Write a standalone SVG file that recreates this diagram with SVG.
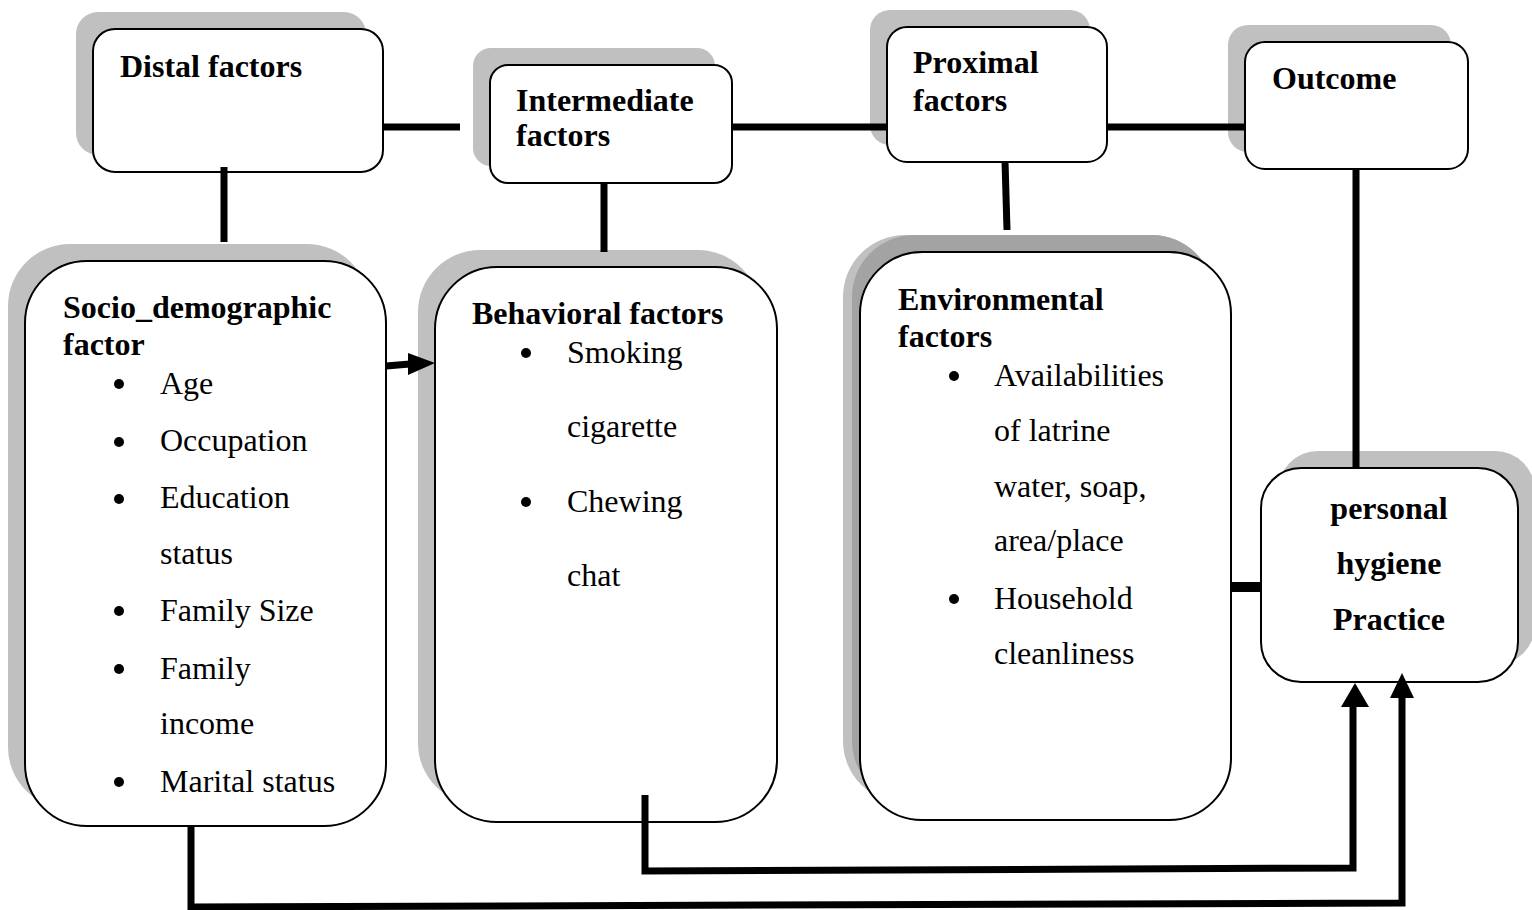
<svg xmlns="http://www.w3.org/2000/svg" width="1532" height="910" viewBox="0 0 1532 910">
<defs>
<style>
.box{fill:#fff;stroke:#000;stroke-width:2}
.sh{fill:#c0c0c0}
.sh2{fill:#a3a3a3}
.h{font-family:"Liberation Serif","Times New Roman",serif;font-weight:bold;font-size:32px;fill:#000}
.t{font-family:"Liberation Serif","Times New Roman",serif;font-size:32px;fill:#000}
.c{stroke:#000;stroke-width:7;fill:none}
.b{fill:#000}
</style>
</defs>
<rect width="1532" height="910" fill="#fff"/>

<g id="distal">
<rect class="sh" x="76" y="12" width="290" height="143" rx="22"/>
<rect class="box" x="93" y="29" width="290" height="143" rx="22"/>
<text class="h" x="120" y="77">Distal factors</text>
</g>

<g id="intermediate">
<rect class="sh" x="473" y="48" width="242" height="118" rx="18"/>
<rect class="box" x="490" y="65" width="242" height="118" rx="18"/>
<text class="h" x="516" y="111">Intermediate</text>
<text class="h" x="516" y="146">factors</text>
</g>

<g id="proximal">
<rect class="sh" x="870" y="10" width="220" height="135" rx="20"/>
<rect class="box" x="887" y="27" width="220" height="135" rx="20"/>
<text class="h" x="913" y="73">Proximal</text>
<text class="h" x="913" y="111">factors</text>
</g>

<g id="outcome">
<rect class="sh" x="1228" y="25" width="223" height="127" rx="20"/>
<rect class="box" x="1245" y="42" width="223" height="127" rx="20"/>
<text class="h" x="1272" y="89">Outcome</text>
</g>

<g id="socio">
<rect class="sh" x="8" y="244" width="361" height="565" rx="62"/>
<rect class="box" x="25" y="261" width="361" height="565" rx="62"/>
<text class="h" x="63" y="318">Socio_demographic</text>
<text class="h" x="63" y="355">factor</text>
<circle class="b" cx="119" cy="384" r="5"/><text class="t" x="160" y="394">Age</text>
<circle class="b" cx="119" cy="442" r="5"/><text class="t" x="160" y="451">Occupation</text>
<circle class="b" cx="119" cy="499" r="5"/><text class="t" x="160" y="508">Education</text>
<text class="t" x="160" y="564">status</text>
<circle class="b" cx="119" cy="611" r="5"/><text class="t" x="160" y="621">Family Size</text>
<circle class="b" cx="119" cy="669" r="5"/><text class="t" x="160" y="679">Family</text>
<text class="t" x="160" y="734">income</text>
<circle class="b" cx="119" cy="782" r="5"/><text class="t" x="160" y="792">Marital status</text>
</g>

<g id="behavioral">
<rect class="sh" x="418" y="250" width="342" height="555" rx="62"/>
<rect class="box" x="435" y="267" width="342" height="555" rx="62"/>
<text class="h" x="472" y="324">Behavioral factors</text>
<circle class="b" cx="526" cy="353" r="5"/><text class="t" x="567" y="363">Smoking</text>
<text class="t" x="567" y="437">cigarette</text>
<circle class="b" cx="526" cy="502" r="5"/><text class="t" x="567" y="512">Chewing</text>
<text class="t" x="567" y="586">chat</text>
</g>

<g id="environmental">
<rect class="sh" x="843" y="235" width="371" height="568" rx="62"/>
<rect class="sh2" x="852" y="235" width="362" height="568" rx="62"/>
<rect class="box" x="860" y="252" width="371" height="568" rx="62"/>
<text class="h" x="898" y="310">Environmental</text>
<text class="h" x="898" y="347">factors</text>
<circle class="b" cx="954" cy="376" r="5"/><text class="t" x="994" y="386">Availabilities</text>
<text class="t" x="994" y="441">of latrine</text>
<text class="t" x="994" y="497">water, soap,</text>
<text class="t" x="994" y="551">area/place</text>
<circle class="b" cx="954" cy="599" r="5"/><text class="t" x="994" y="609">Household</text>
<text class="t" x="994" y="664">cleanliness</text>
</g>

<g id="hygiene">
<rect class="sh" x="1278" y="451" width="257" height="214" rx="40"/>
<rect class="box" x="1261" y="468" width="257" height="214" rx="40"/>
<text class="h" x="1389" y="519" text-anchor="middle">personal</text>
<text class="h" x="1389" y="574" text-anchor="middle">hygiene</text>
<text class="h" x="1389" y="630" text-anchor="middle">Practice</text>
</g>

<g id="connectors">
<line class="c" x1="383" y1="127" x2="460" y2="127"/>
<line class="c" x1="732" y1="127" x2="887" y2="127"/>
<line class="c" x1="1107" y1="127" x2="1245" y2="127"/>
<line class="c" x1="224" y1="167" x2="224" y2="242"/>
<line class="c" x1="604" y1="183" x2="604" y2="252"/>
<line class="c" x1="1005" y1="161" x2="1007" y2="230"/>
<line class="c" x1="1356" y1="170" x2="1356" y2="467"/>
<line class="c" x1="386" y1="366" x2="410" y2="364"/>
<path d="M408,353 L435,363 L408,375 Z" fill="#000"/>
<line x1="1231" y1="587" x2="1261" y2="587" stroke="#000" stroke-width="10"/>
<path class="c" d="M645,795 L645,871 L1353,868 L1353,705"/>
<path d="M1341,707 L1355,683 L1369,707 Z" fill="#000"/>
<path class="c" d="M191,826 L191,907 L1402,903 L1402,697"/>
<path d="M1390,698 L1402,673 L1414,698 Z" fill="#000"/>
</g>
</svg>
